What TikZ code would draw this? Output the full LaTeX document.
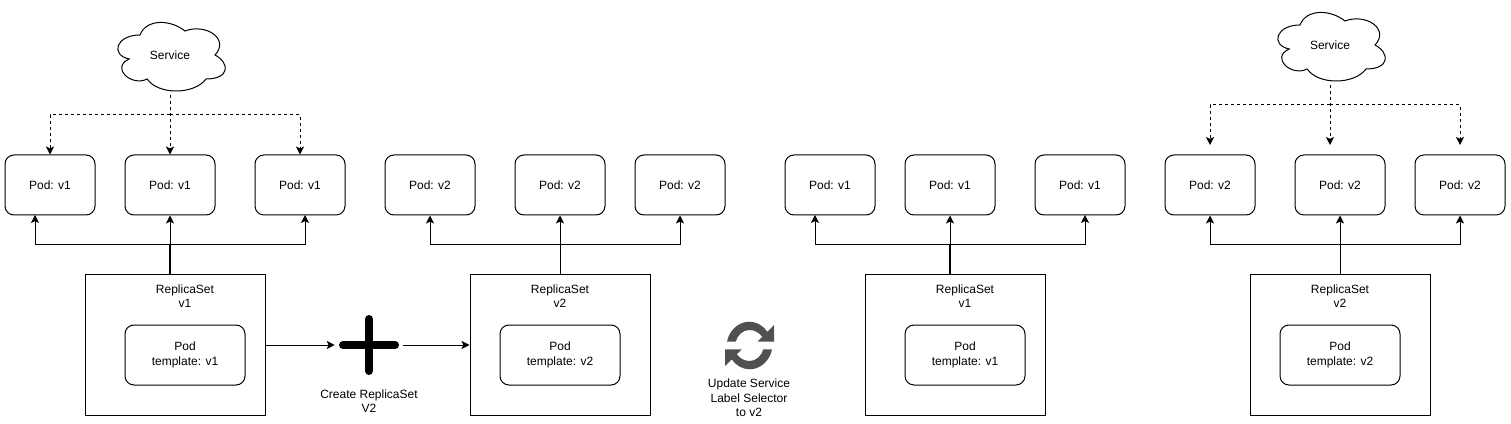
\documentclass[tikz,border=0pt]{standalone}
\usepackage{fontspec}
\setmainfont{Liberation Sans}
\usetikzlibrary{arrows.meta,positioning}
\definecolor{syncgrey}{HTML}{505050}
\tikzset{
  tip/.style={-{Stealth[length=6pt,width=6pt,inset=1.4pt]}},
  wire/.style={draw=black,line width=0.75pt,tip},
  dashwire/.style={wire,dash pattern=on 2.25pt off 2.25pt},
  heavy/.style={draw=black,line width=1.5pt},
  lbl/.style={font=\fontsize{9pt}{10.8pt}\selectfont,align=center,inner sep=0pt,text=black},
  pod/.style={lbl,draw=black,line width=0.75pt,rounded corners=6.75pt,minimum width=67.5pt,minimum height=45pt},
  tmpl/.style={lbl,draw=black,line width=0.75pt,rounded corners=6.75pt,minimum width=90pt,minimum height=45pt},
  rsbox/.style={draw=black,line width=0.75pt,minimum width=135pt,minimum height=105pt,inner sep=0pt},
  cloudshape/.pic={
    \draw[line width=0.75pt,fill=white] (30,20) .. controls (6,20) and (0,40) .. (19.2,44)
      .. controls (0,52.8) and (21.6,72) .. (37.2,64)
      .. controls (48,80) and (84,80) .. (96,64)
      .. controls (120,64) and (120,48) .. (105,40)
      .. controls (120,24) and (96,8) .. (75,16)
      .. controls (60,4) and (36,4) .. (30,20) -- cycle;
  }
}
\begin{document}
\begin{tikzpicture}[x=0.75pt,y=-0.75pt]
\useasboundingbox (0,0) rectangle (1511,424);
% clouds
\pic at (110,15) {cloudshape};
\pic at (1270,5) {cloudshape};
\node[lbl] (s1) at (170,55) {Service};
\node[lbl] (s4) at (1330,45) {Service};
\coordinate (s1b) at (170,95);
\coordinate (s4b) at (1330,85);
\coordinate (s1j) at (170,115);
\coordinate (s4j) at (1330,105);
% pods
\foreach \n/\x/\t in {a1/50/v1,a2/170/v1,a3/300/v1,b1/430/v2,b2/560/v2,b3/680/v2,c1/830/v1,c2/950/v1,c3/1080/v1,d1/1210/v2,d2/1340/v2,d3/1460/v2}{
  \node[pod] (\n) at (\x,185) {Pod: \t};
}
% replica sets
\foreach \n/\x in {ra/175,rb/560,rc/955,rd/1340}{
  \node[rsbox] (\n) at (\x,345) {};
}
\node[lbl] (rat) at (185,296) {ReplicaSet\\v1};
\node[lbl] (rbt) at (560,296) {ReplicaSet\\v2};
\node[lbl] (rct) at (965,296) {ReplicaSet\\v1};
\node[lbl] (rdt) at (1340,296) {ReplicaSet\\v2};
\node[tmpl] (ta) at (185,355) {Pod\\template: v1};
\node[tmpl] (tb) at (560,355) {Pod\\template: v2};
\node[tmpl] (tc) at (965,355) {Pod\\template: v1};
\node[tmpl] (td) at (1340,355) {Pod\\template: v2};
% service connectors
\draw[dashwire] (s1b) -- (a2.north);
\draw[dashwire] (s1j) -| (a1.north);
\draw[dashwire] (s1j) -| (a3.north);
\coordinate (d1t) at (1210,145);
\coordinate (d2t) at (1330,145);
\coordinate (d3t) at (1460,145);
\draw[dashwire] (s4b) -- (d2t);
\draw[dashwire] (s4j) -| (d1t);
\draw[dashwire] (s4j) -| (d3t);
% replica set to pods
\coordinate (ja) at (170,245);
\coordinate (jb) at (560,245);
\coordinate (jc) at (950,245);
\coordinate (jd) at (1340,245);
\coordinate (ea1) at (35,215);
\coordinate (ea3) at (305,215);
\coordinate (ec1) at (815,215);
\coordinate (ec3) at (1085,215);
\coordinate (ra0) at (170,275);
\coordinate (rc0) at (950,275);
\draw[heavy] (ra0) -- (ja);
\draw[wire] (ja) -- (a2.south);
\draw[wire] (ja) -| (ea1);
\draw[wire] (ja) -| (ea3);
\draw[wire] (rb.north) -- (b2.south);
\draw[wire] (jb) -| (b1.south);
\draw[wire] (jb) -| (b3.south);
\draw[heavy] (rc0) -- (jc);
\draw[wire] (jc) -- (c2.south);
\draw[wire] (jc) -| (ec1);
\draw[wire] (jc) -| (ec3);
\draw[wire] (rd.north) -- (d2.south);
\draw[wire] (jd) -| (d1.south);
\draw[wire] (jd) -| (d3.south);
% plus
\node[minimum width=45pt,minimum height=45pt,inner sep=0pt] (plus) at (369,345) {};
\draw[line width=6pt,line cap=round] (343,345) -- (395,345);
\draw[line width=6pt,line cap=round] (369,319) -- (369,371);
\draw[wire,shorten >=3pt] (ra.east |- plus) -- (plus.west);
\draw[wire,shorten <=3pt] (plus.east) -- (rb.west |- plus);
\node[lbl] (plusl) at (369,401) {Create ReplicaSet\\V2};
% sync icon
\foreach \r in {0,180}{
  \fill[syncgrey,rotate around={\r:(749.5,345.5)}]
    (727,341.7) .. controls (729,330.5) and (738.5,321.7) .. (749.3,321.7)
    .. controls (756.5,321.7) and (763,325.5) .. (767.3,331.7)
    -- (774,325) -- (774,341.7) -- (757.3,341.7) -- (762.3,336.7)
    .. controls (759,332.5) and (754.5,330) .. (749.3,330)
    .. controls (743,330) and (737.5,335) .. (735.7,341.7) -- cycle;
}
\node[lbl] (syncl) at (749,398) {Update Service\\Label Selector\\to v2};
\end{tikzpicture}
\end{document}
